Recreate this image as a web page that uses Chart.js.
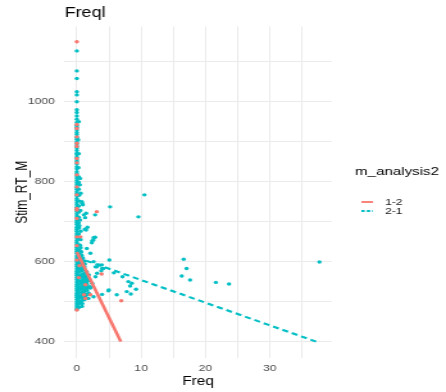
<!DOCTYPE html>
<html>
<head>
<meta charset="utf-8">
<script src="https://cdn.jsdelivr.net/npm/chart.js@4.4.1/dist/chart.umd.min.js"></script>
<style>
    html, body { margin: 0; padding: 0; background: #fff; overflow: hidden; }
    #chart { display: block; width: 348px; height: 392px; transform: scaleX(1.2816); transform-origin: 0 0; }
</style>
</head>
<body>
<canvas id="chart" width="348" height="392"></canvas>
<script>
// values
const groups = ["1-2", "2-1"];

// 2-1 points sitting on Freq = 0
const tealStripeY = [1127, 1077, 1058, 1025, 1017, 1000, 980, 973, 964, 956, 948, 941, 936, 929, 923, 918, 911,
    906, 900, 895, 889, 884, 878, 871, 867, 861, 854, 850, 844, 837, 832, 825, 820, 814, 809, 803, 797, 792, 786,
    781, 775, 770, 765, 758, 753, 747, 742, 736, 731, 726, 720, 714, 709, 703, 698, 693, 686, 681, 676, 670, 665,
    659, 653, 648, 643, 636, 631, 626, 621, 614, 609, 604, 599, 593, 588, 582, 576, 571, 566, 560, 555, 549, 543,
    538, 532, 527, 521, 516, 511, 505, 499, 494, 489, 484, 480];

// 2-1 points just right of Freq = 0 (the wide part of the stripe)
const tealNearX = [0.3, 0.2, 0.3, 0.25, 0.3, 0.3, 0.3, 0.35, 0.3, 0.3, 0.35, 0.3, 0.3, 0.35, 0.3, 0.3, 0.3,
    0.47, 0.78, 0.93, 0.82, 0.5, 0.4, 0.6, 0.6, 0.55, 0.6, 0.5];
const tealNearY = [950, 905, 870, 835, 812, 798, 781, 766, 752, 739, 724, 711, 697, 684, 669, 657, 642,
    792, 750, 742, 746, 704, 690, 655, 676, 728, 771, 808];

// the dense blob at low Freq, low Stim_RT_M
const blobX = [0.35, 0.8, 0.3, 0.85, 0.35, 0.8, 1.2, 0.3, 0.85, 1.25, 0.35, 0.8, 1.3, 0.3, 0.8, 1.25, 1.6,
    0.35, 0.85, 1.3, 1.65, 0.3, 0.8, 1.25, 1.6, 0.35, 0.8, 1.3, 1.65, 0.3, 0.85, 1.25, 1.6, 0.35, 0.8, 1.3,
    1.6, 0.3, 0.8, 1.25, 1.55, 0.35, 0.85, 1.3, 0.3, 0.8, 1.2, 0.35, 0.8, 1.25, 0.3, 0.85, 1.2, 0.35, 0.8,
    0.3, 0.75, 0.35, 0.7, 0.3, 0.6,
    0.55, 1.05, 0.6, 1.0, 1.45, 0.55, 1.05, 1.45, 0.6, 1.0, 1.45, 0.55, 1.05, 1.4, 0.6, 1.0, 0.55, 1.05,
    0.6, 0.95, 0.55, 0.5];
const blobY = [486, 488, 494, 495, 501, 502, 505, 508, 510, 512, 515, 517, 520, 522, 524, 527, 528,
    529, 531, 534, 536, 537, 539, 541, 543, 544, 546, 548, 551, 552, 553, 556, 558, 559, 561, 563,
    566, 567, 569, 571, 574, 575, 577, 579, 583, 585, 587, 590, 592, 594, 598, 600, 602, 606, 608,
    613, 616, 621, 624, 629, 635,
    497, 506, 513, 521, 516, 533, 538, 532, 549, 554, 549, 564, 566, 560, 580, 581, 596, 595,
    611, 609, 627, 641];

// scattered 2-1 points
const tealX = [10.5, 5.17, 9.57, 2.84, 1.44, 1.29, 1.09, 1.65, 1.44, 1.24, 2.84, 2.33, 2.58, 1.55, 5.06, 3.88,
    4.13, 3.1, 2.6, 2.38, 2.1, 2.6, 2.9, 3.4, 3.93, 3.8, 3.15, 2.9, 1.86, 2.0, 2.38, 4.97, 2.1, 3.93, 2.6, 1.86,
    5.75, 7.1, 8.0, 8.54, 8.28, 9.2, 7.76, 8.39, 6.2, 4.9, 2.07, 1.8, 16.6, 17.05, 16.3, 17.6, 21.6, 23.65, 37.7];
const tealY = [767, 737, 712, 717, 721, 710, 717, 686, 679, 681, 661, 647, 654, 633, 604, 592,
    583, 587, 660, 652, 621, 600, 587, 592, 583, 577, 571, 562, 567, 554, 546, 529, 534, 518, 512, 521,
    572, 562, 550, 546, 539, 531, 525, 519, 517, 527, 537, 508, 606, 583, 564, 554, 548, 544, 599];

// 1-2 points sitting on Freq = 0
const redStripeY = [1150, 943, 933, 912, 896, 888, 858, 847, 817, 787, 767, 733, 729, 708, 662, 640, 604, 479];

// other 1-2 points
const redX = [0.56, 3.1, 1.34, 1.1, 2.1, 3.85, 6.9, 0.3, 1.34, 0.4];
const redY = [662, 725, 542, 517, 517, 569, 502, 560, 508, 590];

// linear fits
const fitX12 = [0, 6.83];
const fitY12 = [624, 400];
const fitX21 = [0, 37.7];
const fitY21 = [610.6, 397];

const yTicks = [400, 600, 800, 1000];
const xTicks = [0, 10, 20, 30];

const RED = "#F8766D";
const TEAL = "#00BFC4";
const FONT = "'Liberation Sans', Arial, sans-serif";

const toPoints = (xs, ys) => xs.map((x, i) => ({ x: x, y: ys[i] }));
const onZero = ys => ys.map(y => ({ x: 0, y: y }));

// ggplot style legend on the right
const sideLegend = {
    id: "sideLegend",
    afterDraw(chart) {
        const ctx = chart.ctx;
        ctx.save();
        ctx.textBaseline = "middle";
        ctx.textAlign = "left";
        ctx.fillStyle = "#000";
        ctx.font = "11.8px " + FONT;
        ctx.fillText("m_analysis2", 277, 172);

        const rows = [
            { label: groups[0], color: RED, dash: [], y: 202 },
            { label: groups[1], color: TEAL, dash: [2.6, 1.6], y: 211 }
        ];
        rows.forEach(r => {
            ctx.strokeStyle = r.color;
            ctx.lineWidth = 1.8;
            ctx.setLineDash(r.dash);
            ctx.beginPath();
            ctx.moveTo(282, r.y);
            ctx.lineTo(291, r.y);
            ctx.stroke();
            ctx.setLineDash([]);
            ctx.fillStyle = "#222";
            ctx.font = "9.5px " + FONT;
            ctx.fillText(r.label, 300.4, r.y + 0.5);
        });
        ctx.restore();
    }
};

const gridOpts = { color: "#EBEBEB", lineWidth: 1, drawTicks: false };

new Chart(document.getElementById("chart"), {
    type: "scatter",
    plugins: [sideLegend],
    data: {
        datasets: [
            {
                label: groups[0] + " fit",
                data: toPoints(fitX12, fitY12),
                showLine: true,
                borderColor: RED,
                borderWidth: 2.6,
                pointRadius: 0,
                order: 0
            },
            {
                label: groups[1] + " fit",
                data: toPoints(fitX21, fitY21),
                showLine: true,
                borderColor: TEAL,
                borderWidth: 2.1,
                borderDash: [4.8, 3.2],
                pointRadius: 0,
                order: 1
            },
            {
                label: groups[0],
                data: onZero(redStripeY).concat(toPoints(redX, redY)),
                backgroundColor: RED,
                borderWidth: 0,
                pointRadius: 1.7,
                order: 2
            },
            {
                label: groups[1],
                data: onZero(tealStripeY)
                    .concat(toPoints(tealNearX, tealNearY))
                    .concat(toPoints(blobX, blobY))
                    .concat(toPoints(tealX, tealY)),
                backgroundColor: TEAL,
                borderWidth: 0,
                pointRadius: 1.7,
                order: 3
            }
        ]
    },
    options: {
        responsive: false,
        animation: false,
        devicePixelRatio: 1,
        layout: { padding: { left: 0, right: 89.2, top: 0, bottom: 0 } },
        plugins: {
            legend: { display: false },
            tooltip: { enabled: false },
            title: {
                display: true,
                text: "Freql",
                align: "start",
                fullSize: false,
                color: "#000",
                font: { family: FONT, size: 14, weight: "normal" },
                padding: { top: 4.6, bottom: 5.1 }
            }
        },
        scales: {
            x: {
                type: "linear",
                min: -1.9,
                max: 39.6,
                afterFit: scale => { scale.height = 34; },
                grid: gridOpts,
                border: { display: false },
                ticks: {
                    stepSize: 5,
                    includeBounds: false,
                    autoSkip: false,
                    maxRotation: 0,
                    padding: 5,
                    color: "#4D4D4D",
                    font: { family: FONT, size: 9.5 },
                    callback: v => xTicks.includes(v) ? v : ""
                },
                title: {
                    display: true,
                    text: "Freq",
                    color: "#000",
                    font: { family: FONT, size: 12 },
                    padding: { top: 0, bottom: 2.8 }
                }
            },
            y: {
                type: "linear",
                min: 359,
                max: 1188,
                afterFit: scale => { scale.width = 50.4; },
                grid: gridOpts,
                border: { display: false },
                ticks: {
                    stepSize: 100,
                    includeBounds: false,
                    autoSkip: false,
                    padding: 7.5,
                    color: "#4D4D4D",
                    font: { family: FONT, size: 9.5 },
                    callback: v => yTicks.includes(v) ? v : ""
                },
                title: {
                    display: true,
                    text: "Stim_RT_M",
                    color: "#000",
                    font: { family: FONT, size: 12 },
                    padding: { top: 10.5, bottom: 0 }
                }
            }
        }
    }
});
</script>
</body>
</html>
